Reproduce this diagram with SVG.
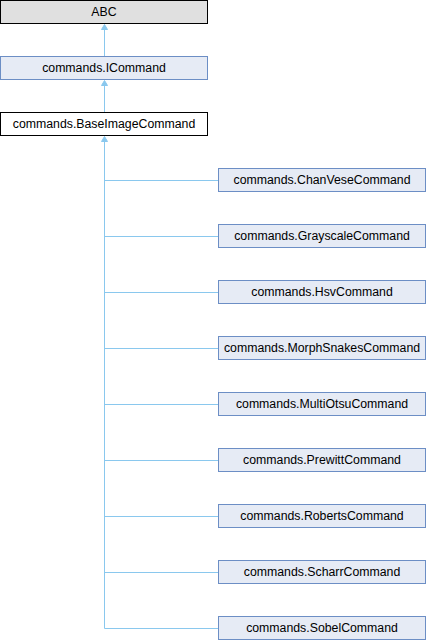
<svg xmlns="http://www.w3.org/2000/svg" width="426" height="640" viewBox="0 0 426 640">
<style>
.t{font-family:"Liberation Sans",Arial,sans-serif;font-size:12.3px;text-anchor:middle;fill:#000}
.c rect{fill:#E6EBF5;stroke:#6C8EC5;stroke-width:1}
.e{stroke:#8AC8EE;stroke-width:1;fill:none}
.a{fill:#8AC8EE;stroke:#8AC8EE;stroke-width:1}
</style>
<rect width="426" height="640" fill="#fff"/>
<g id="connectors">
<path class="e" d="M104.5,30 V56"/>
<polygon class="a" points="104.5,24.5 101.5,29.5 107.5,29.5"/>
<path class="e" d="M104.5,86 V112"/>
<polygon class="a" points="104.5,80.5 101.5,85.5 107.5,85.5"/>
<path class="e" d="M104.5,142 V628.5 H218"/>
<polygon class="a" points="104.5,136.5 101.5,141.5 107.5,141.5"/>
<path class="e" d="M104.5,180.5 H218 M104.5,236.5 H218 M104.5,292.5 H218 M104.5,348.5 H218 M104.5,404.5 H218 M104.5,460.5 H218 M104.5,516.5 H218 M104.5,572.5 H218"/>
</g>
<g id="ABC"><rect x="0.5" y="0.5" width="207" height="23" fill="#E0E0E0" stroke="#000"/><text class="t" x="104" y="16">ABC</text></g>
<g id="ICommand" class="c"><rect x="0.5" y="56.5" width="207" height="23"/><text class="t" x="104" y="72">commands.ICommand</text></g>
<g id="BaseImageCommand"><rect x="0.5" y="112.5" width="207" height="23" fill="#fff" stroke="#000"/><text class="t" x="104" y="128">commands.BaseImageCommand</text></g>
<g id="ChanVeseCommand" class="c"><rect x="218.5" y="168.5" width="207" height="23"/><text class="t" x="322" y="184">commands.ChanVeseCommand</text></g>
<g id="GrayscaleCommand" class="c"><rect x="218.5" y="224.5" width="207" height="23"/><text class="t" x="322" y="240">commands.GrayscaleCommand</text></g>
<g id="HsvCommand" class="c"><rect x="218.5" y="280.5" width="207" height="23"/><text class="t" x="322" y="296">commands.HsvCommand</text></g>
<g id="MorphSnakesCommand" class="c"><rect x="218.5" y="336.5" width="207" height="23"/><text class="t" x="322" y="352">commands.MorphSnakesCommand</text></g>
<g id="MultiOtsuCommand" class="c"><rect x="218.5" y="392.5" width="207" height="23"/><text class="t" x="322" y="408">commands.MultiOtsuCommand</text></g>
<g id="PrewittCommand" class="c"><rect x="218.5" y="448.5" width="207" height="23"/><text class="t" x="322" y="464">commands.PrewittCommand</text></g>
<g id="RobertsCommand" class="c"><rect x="218.5" y="504.5" width="207" height="23"/><text class="t" x="322" y="520">commands.RobertsCommand</text></g>
<g id="ScharrCommand" class="c"><rect x="218.5" y="560.5" width="207" height="23"/><text class="t" x="322" y="576">commands.ScharrCommand</text></g>
<g id="SobelCommand" class="c"><rect x="218.5" y="616.5" width="207" height="23"/><text class="t" x="322" y="632">commands.SobelCommand</text></g>
</svg>
